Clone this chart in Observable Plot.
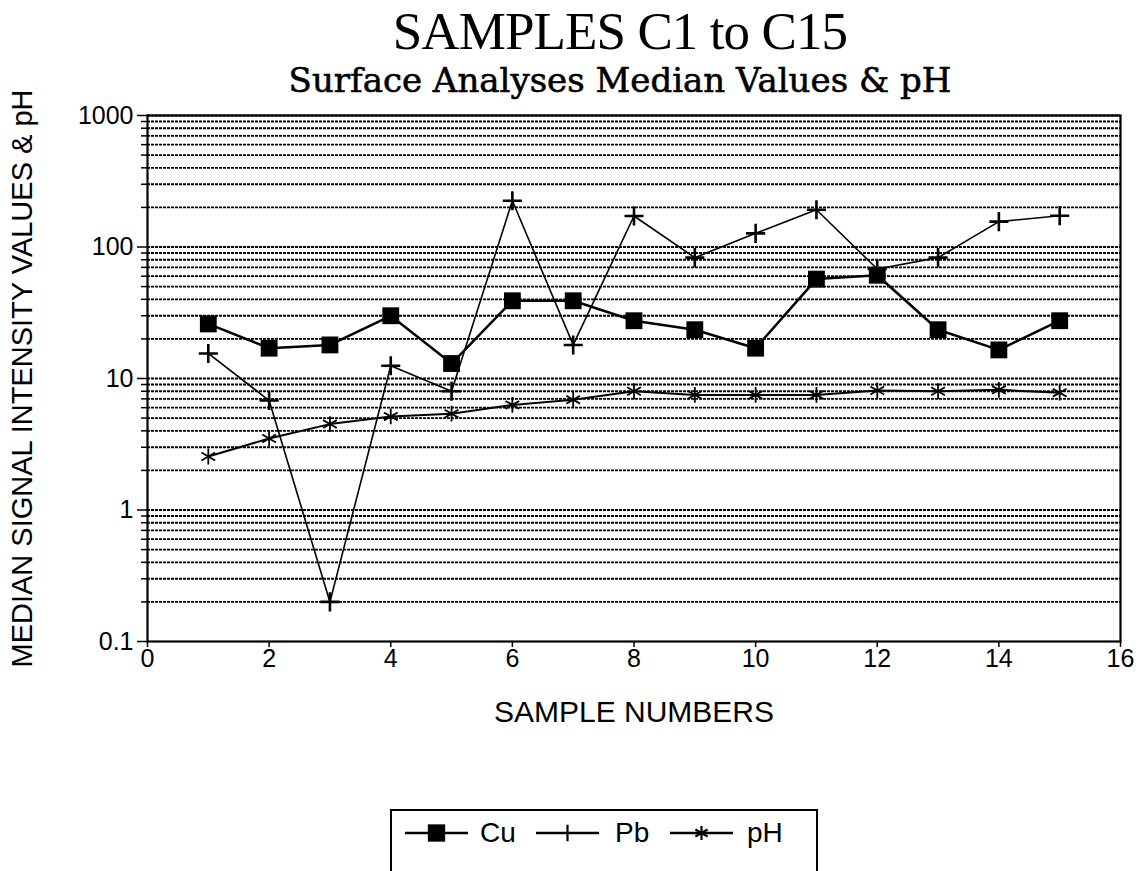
<!DOCTYPE html>
<html>
<head>
<meta charset="utf-8">
<script src="https://cdn.jsdelivr.net/npm/d3@7"></script>
<script src="https://cdn.jsdelivr.net/npm/@observablehq/plot@0.6"></script>
<style>
  html, body { margin: 0; padding: 0; background: #fff; }
  #wrap { position: relative; width: 1143px; height: 871px; overflow: hidden; background: #fff; }
  .title { position: absolute; left: 620px; transform: translateX(-50%); white-space: nowrap; color: #000; z-index: 2; }
  #t1 { top: 5.5px; height: 50px; line-height: 50px; font-family: "Liberation Serif", serif; font-size: 53px; letter-spacing: -0.9px; }
  #t2 { top: 64px; height: 32px; line-height: 32px; font-family: "DejaVu Serif", serif; font-size: 34px; -webkit-text-stroke: 0.6px #000; }
  #chart { position: absolute; left: 0; top: 95px; z-index: 1; }
  #chart svg { overflow: visible; }
  #legend { position: absolute; left: 390px; top: 809px; width: 428px; height: 62px;
            border-top: 2px solid #000; border-left: 2px solid #000; border-right: 2px solid #000; box-sizing: border-box; }
  .lg { position: absolute; top: 6px; font-family: "Liberation Sans", Arial, sans-serif; font-size: 28px; line-height: 32px; color: #000; }
  .ic { position: absolute; top: 6px; }
</style>
</head>
<body>
<div id="wrap">
  <div class="title" id="t1">SAMPLES C1 to C15</div>
  <div class="title" id="t2">Surface Analyses Median Values &amp; pH</div>
  <div id="chart"></div>
  <div id="legend"></div>
</div>
<script>
// ---- data ----
const samples = [1, 2, 3, 4, 5, 6, 7, 8, 9, 10, 11, 12, 13, 14, 15];
const cuValues = [26, 17, 18, 30, 13, 39, 39, 27.5, 23.5, 17, 57, 61, 23.5, 16.5, 27.5];
const pbValues = [15.5, 6.8, 0.2, 12.5, 8, 225, 18, 172, 83, 127, 192, 68, 83, 156, 173];
const phValues = [2.55, 3.5, 4.5, 5.15, 5.4, 6.3, 6.9, 8.0, 7.5, 7.5, 7.5, 8.1, 8.0, 8.2, 7.8];
const xTicks = [0, 2, 4, 6, 8, 10, 12, 14, 16];
const yMajorTicks = [0.1, 1, 10, 100, 1000];
const seriesNames = ["Cu", "Pb", "pH"];
const xLabel = "SAMPLE NUMBERS";
const yLabel = "MEDIAN SIGNAL INTENSITY VALUES & pH";

// minor ticks / gridlines at 2..9 x each decade
const decades = [0.1, 1, 10, 100];
const yMinorTicks = decades.flatMap(d => [2, 3, 4, 5, 6, 7, 8, 9].map(m => +(m * d).toPrecision(3)));
const gridValues = [...yMinorTicks, 1, 10, 100, 1000];

const table = samples.map((s, i) => ({sample: s, Cu: cuValues[i], Pb: pbValues[i], pH: phValues[i]}));

const font = "'Liberation Sans', Arial, Helvetica, sans-serif";

const chart = Plot.plot({
  width: 1143,
  height: 646,
  marginLeft: 147,
  marginRight: 23,
  marginTop: 20,
  marginBottom: 100,
  style: {fontFamily: font, fontSize: "24px", background: "transparent", color: "black", overflow: "visible"},
  x: {domain: [0, 16]},
  y: {type: "log", domain: [0.1, 1000]},
  marks: [
    Plot.ruleY(gridValues, {stroke: "#000", strokeWidth: 1.8, strokeDasharray: "3,1"}),
    Plot.axisX({ticks: xTicks, tickSize: 6, tickPadding: 2, fontSize: 25, label: null, strokeWidth: 1.5}),
    Plot.axisY({ticks: yMajorTicks, tickSize: 10, tickPadding: 4, fontSize: 25, label: null,
                tickFormat: d => String(d), strokeWidth: 1.5}),
    Plot.axisY({ticks: yMinorTicks, tickSize: 6, tickFormat: () => "", label: null, strokeWidth: 1.5}),
    Plot.frame({stroke: "black", strokeWidth: 2.2}),
    Plot.line(table, {x: "sample", y: "pH", stroke: "black", strokeWidth: 2}),
    Plot.line(table, {x: "sample", y: "Pb", stroke: "black", strokeWidth: 1.6}),
    Plot.line(table, {x: "sample", y: "Cu", stroke: "black", strokeWidth: 2.5}),
    Plot.dot(table, {x: "sample", y: "pH", symbol: "asterisk", r: 7.5, stroke: "black", strokeWidth: 1.8}),
    Plot.dot(table, {x: "sample", y: "Pb", symbol: "plus", r: 6.2, stroke: "black", strokeWidth: 2.6}),
    Plot.dot(table, {x: "sample", y: "Cu", symbol: "square", r: 9.5, fill: "black", stroke: "none"}),
    Plot.text([xLabel], {frameAnchor: "bottom", dy: 80, fontSize: 30, fill: "black"}),
    Plot.text([yLabel], {frameAnchor: "left", textAnchor: "middle", dx: -125, rotate: -90, fontSize: 29, fill: "black"})
  ]
});
document.getElementById("chart").appendChild(chart);

// ---- legend ----
const legend = document.getElementById("legend");
const legendLayout = [
  {name: seriesNames[0], icon: 13, text: 88, sym: "square"},
  {name: seriesNames[1], icon: 144, text: 223, sym: "plus"},
  {name: seriesNames[2], icon: 278, text: 355, sym: "asterisk"}
];
const symbolMap = {square: d3.symbolSquare, plus: d3.symbolPlus, asterisk: d3.symbolAsterisk};
legendLayout.forEach(item => {
  const svg = d3.select(legend).append("svg")
    .attr("class", "ic").attr("width", 64).attr("height", 32)
    .style("left", item.icon + "px");
  svg.append("line").attr("x1", 0).attr("x2", 63).attr("y1", 16).attr("y2", 16)
    .attr("stroke", "black").attr("stroke-width", 2.5);
  const size = item.sym === "square" ? 300 : item.sym === "plus" ? 90 : 140;
  const p = svg.append("path").attr("transform", "translate(31.5,16)")
    .attr("d", d3.symbol(symbolMap[item.sym], size)());
  if (item.sym === "square") p.attr("fill", "black");
  else p.attr("fill", "none").attr("stroke", "black").attr("stroke-width", 2.2);
  d3.select(legend).append("div").attr("class", "lg").style("left", item.text + "px").text(item.name);
});
</script>
</body>
</html>
